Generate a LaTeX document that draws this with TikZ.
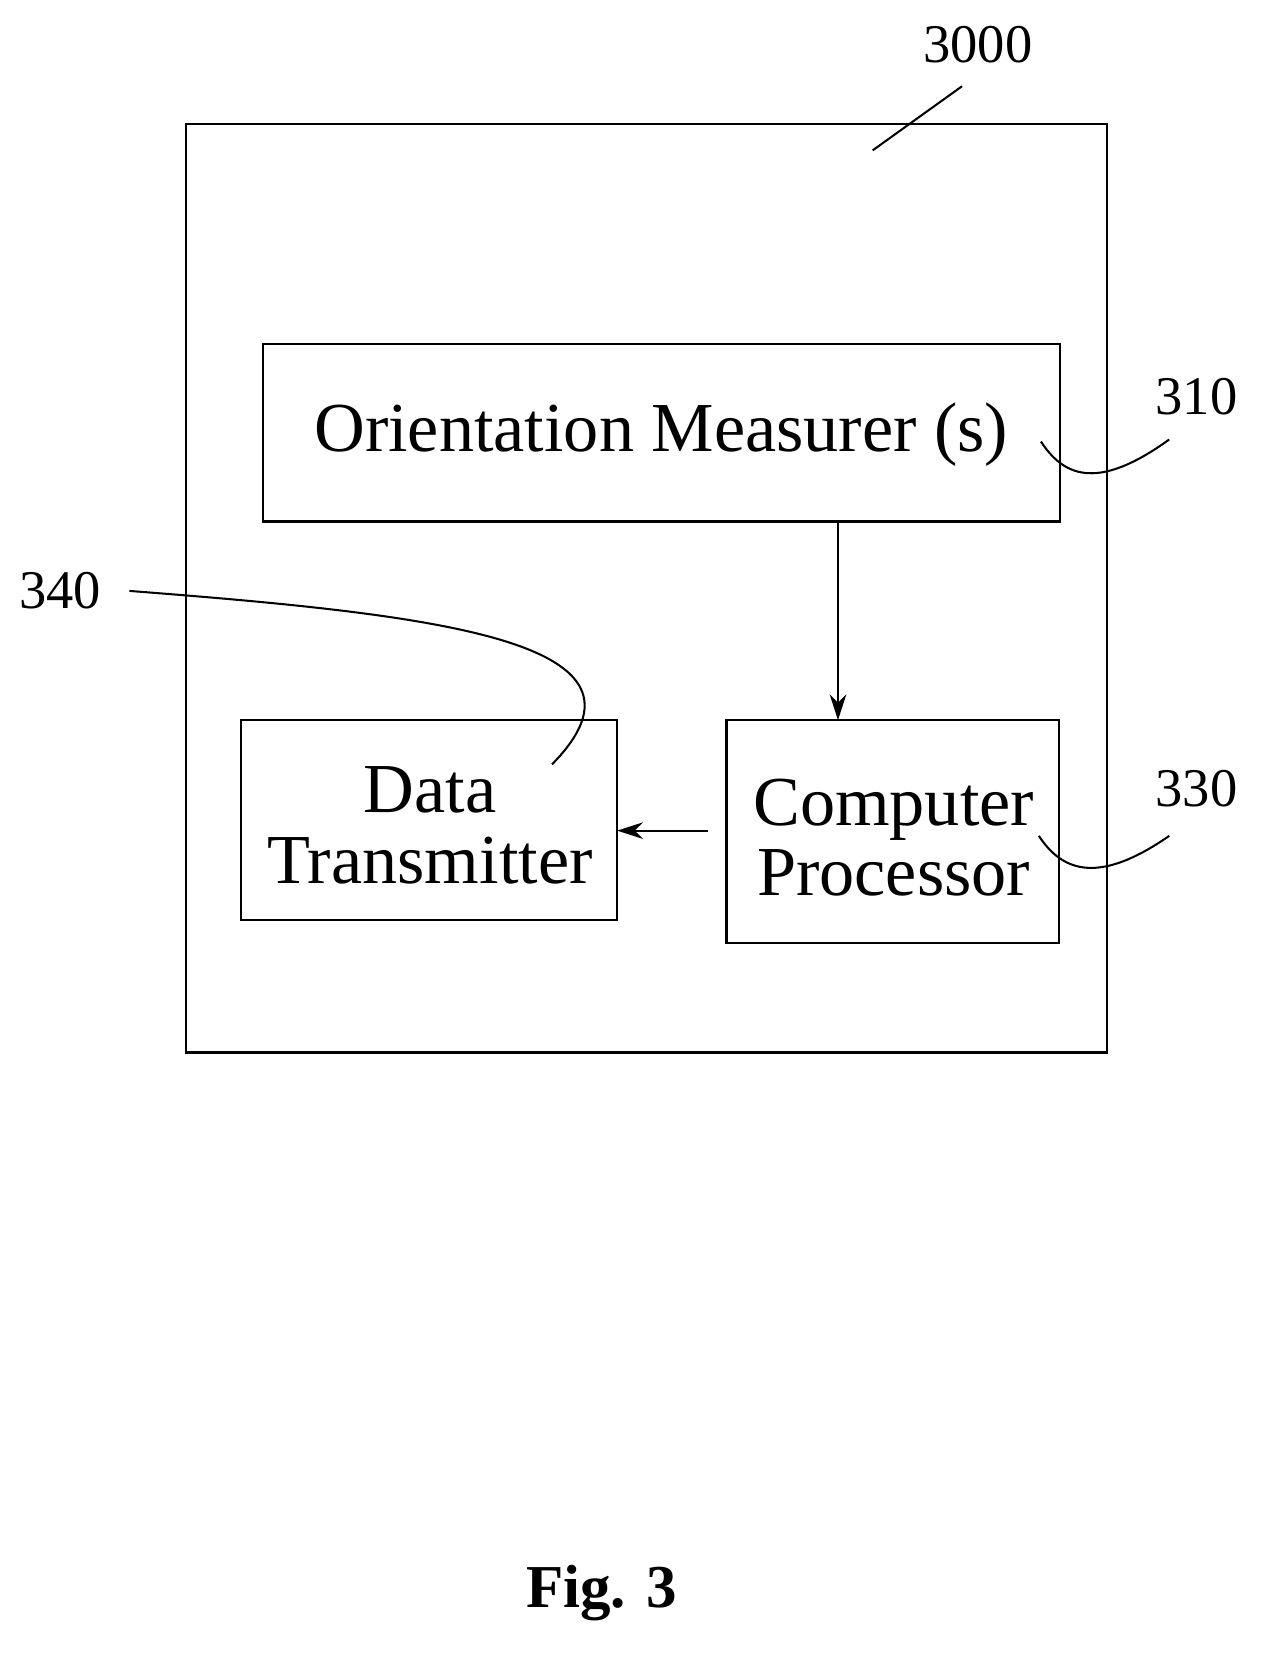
\documentclass[tikz,border=0pt]{standalone}
\usepackage{fontspec}
\setmainfont{Liberation Serif}
\usetikzlibrary{arrows.meta}
\begin{document}
\begin{tikzpicture}[x=0.02cm,y=-0.02cm,line width=1.3pt,
  box/.style={draw,line width=1.3pt},
  big/.style={font=\fontsize{38}{42}\selectfont,align=center},
  num/.style={font=\fontsize{29.5}{32}\selectfont},
  lead/.style={line width=1.1pt},
  arr/.style={-{Stealth[length=14pt,width=9pt]},line width=1.1pt}]
\useasboundingbox (0,0) rectangle (1200,1575);
\draw[box] (177,118) rectangle (1053,1001);
\node[box,minimum width=758*0.02cm,minimum height=169*0.02cm] (om) at (629,411.5) {};
\node[big] (omt) at (629,413) {Orientation Measurer (s)};
\node[box,minimum width=316*0.02cm,minimum height=212*0.02cm] (cp) at (849,791) {};
\node[big] (cpt) at (850,797) {Computer\\[-4pt]Processor};
\node[box,minimum width=358*0.02cm,minimum height=190*0.02cm] (dt) at (408,780) {};
\node[big] (dtt) at (409,785) {Data\\[-4pt]Transmitter};
\coordinate (a1) at (797,496);
\coordinate (a2) at (797,685);
\draw[arr] (a1) -- (a2);
\coordinate (b1) at (673,790);
\coordinate (b2) at (587,790);
\draw[arr] (b1) -- (b2);
\node[num] (n3000) at (930,42) {3000};
\coordinate (l1) at (830,143); \coordinate (l2) at (915,82);
\draw[lead] (l1) -- (l2);
\node[num] (n310) at (1138,377) {310};
\coordinate (p1) at (990,420); \coordinate (p2) at (1112,418);
\draw[lead] (p1) .. controls (1010,450) and (1040,470) .. (p2);
\node[num] (n330) at (1138,750) {330};
\coordinate (q1) at (988,795); \coordinate (q2) at (1112,795);
\draw[lead] (q1) .. controls (1008,825) and (1040,845) .. (q2);
\node[num] (n340) at (57,562) {340};
\coordinate (r1) at (123,562); \coordinate (r2) at (525,727);
\draw[lead] (r1) .. controls (420,585) and (640,610) .. (r2);
\node[font=\fontsize{33}{36}\selectfont\bfseries] (fig) at (572,1515) {Fig. 3};
\end{tikzpicture}
\end{document}
